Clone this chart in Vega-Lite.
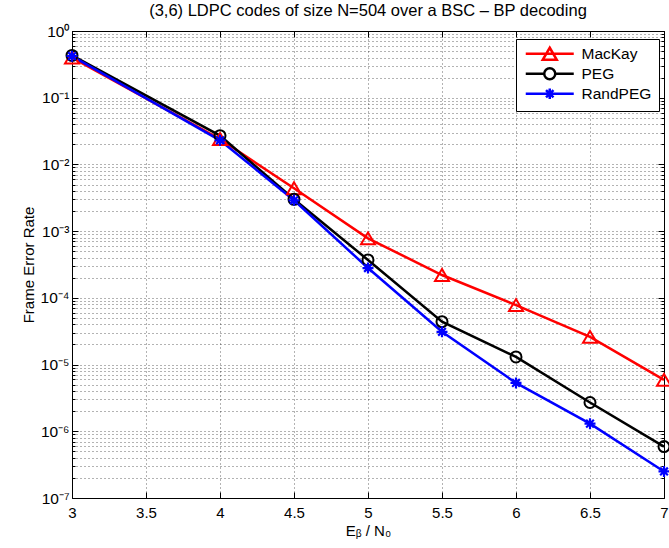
{
  "$schema": "https://vega.github.io/schema/vega-lite/v6.json",
  "width": 592,
  "height": 467,
  "autosize": "none",
  "padding": {"left": 72, "top": 31, "right": 5, "bottom": 50},
  "background": "white",
  "title": {
    "text": "(3,6) LDPC codes of size N=504 over a BSC – BP decoding",
    "font": "Liberation Sans",
    "fontSize": 16.5,
    "fontWeight": "normal",
    "color": "#000",
    "baseline": "bottom",
    "offset": 7,
    "dy": 18
  },
  "data": {
    "values": [
      {"ebn0": 3, "fer": 0.40, "series": "MacKay"},
      {"ebn0": 4, "fer": 0.024, "series": "MacKay"},
      {"ebn0": 4.5, "fer": 0.0044, "series": "MacKay"},
      {"ebn0": 5, "fer": 0.00078, "series": "MacKay"},
      {"ebn0": 5.5, "fer": 0.00022, "series": "MacKay"},
      {"ebn0": 6, "fer": 0.000078, "series": "MacKay"},
      {"ebn0": 6.5, "fer": 0.000026, "series": "MacKay"},
      {"ebn0": 7, "fer": 0.0000059, "series": "MacKay"},
      {"ebn0": 3, "fer": 0.43, "series": "PEG"},
      {"ebn0": 4, "fer": 0.027, "series": "PEG"},
      {"ebn0": 4.5, "fer": 0.0030, "series": "PEG"},
      {"ebn0": 5, "fer": 0.00037, "series": "PEG"},
      {"ebn0": 5.5, "fer": 0.000044, "series": "PEG"},
      {"ebn0": 6, "fer": 0.000013, "series": "PEG"},
      {"ebn0": 6.5, "fer": 0.0000027, "series": "PEG"},
      {"ebn0": 7, "fer": 0.00000059, "series": "PEG"},
      {"ebn0": 3, "fer": 0.42, "series": "RandPEG"},
      {"ebn0": 4, "fer": 0.023, "series": "RandPEG"},
      {"ebn0": 4.5, "fer": 0.0029, "series": "RandPEG"},
      {"ebn0": 5, "fer": 0.00028, "series": "RandPEG"},
      {"ebn0": 5.5, "fer": 0.000031, "series": "RandPEG"},
      {"ebn0": 6, "fer": 0.0000053, "series": "RandPEG"},
      {"ebn0": 6.5, "fer": 0.0000013, "series": "RandPEG"},
      {"ebn0": 7, "fer": 0.00000025, "series": "RandPEG"}
    ]
  },
  "layer": [
    {
      "mark": {"type": "line", "strokeWidth": 2.5},
      "encoding": {
        "x": {
          "field": "ebn0", "type": "quantitative",
          "scale": {"domain": [3, 7], "nice": false, "zero": false},
          "axis": {
            "orient": "bottom",
            "values": [3, 3.5, 4, 4.5, 5, 5.5, 6, 6.5, 7],
            "format": "~g",
            "title": "Eᵦ / N₀",
            "grid": true,
            "tickSize": -6,
            "labelPadding": 13,
            "titlePadding": 3
          }
        },
        "y": {
          "field": "fer", "type": "quantitative",
          "scale": {"type": "log", "domain": [1e-7, 1], "nice": false},
          "axis": {
            "orient": "left",
            "values": [1e-7, 2e-7, 3e-7, 4e-7, 5e-7, 6e-7, 7e-7, 8e-7, 9e-7,
                       1e-6, 2e-6, 3e-6, 4e-6, 5e-6, 6e-6, 7e-6, 8e-6, 9e-6,
                       1e-5, 2e-5, 3e-5, 4e-5, 5e-5, 6e-5, 7e-5, 8e-5, 9e-5,
                       1e-4, 2e-4, 3e-4, 4e-4, 5e-4, 6e-4, 7e-4, 8e-4, 9e-4,
                       1e-3, 2e-3, 3e-3, 4e-3, 5e-3, 6e-3, 7e-3, 8e-3, 9e-3,
                       1e-2, 2e-2, 3e-2, 4e-2, 5e-2, 6e-2, 7e-2, 8e-2, 9e-2,
                       1e-1, 2e-1, 3e-1, 4e-1, 5e-1, 6e-1, 7e-1, 8e-1, 9e-1, 1],
            "labelExpr": "abs(log(datum.value)/LN10 - round(log(datum.value)/LN10)) > 0.01 ? '' : (round(log(datum.value)/LN10) == 0 ? '10⁰' : '10⁻' + ['','¹','²','³','⁴','⁵','⁶','⁷'][-round(log(datum.value)/LN10)])",
            "labelFontSize": 15.5,
            "title": "Frame Error Rate",
            "grid": true,
            "tickSize": {"condition": {"test": "abs(log(datum.value)/LN10 - round(log(datum.value)/LN10)) < 0.01", "value": -6}, "value": -3},
            "labelPadding": 9,
            "titlePadding": 4
          }
        },
        "color": {
          "field": "series", "type": "nominal",
          "scale": {"domain": ["MacKay", "PEG", "RandPEG"], "range": ["#ff0000", "#000000", "#0000ff"]},
          "legend": {
            "title": null,
            "orient": "none",
            "legendX": 444,
            "legendY": 8,
            "strokeColor": "#000",
            "fillColor": "#fff",
            "padding": 7,
            "symbolSize": 144,
            "symbolStrokeWidth": 2.5,
            "symbolOffset": 19,
            "labelOffset": 24,
            "labelFont": "Liberation Sans",
            "labelFontSize": 15.5,
            "labelColor": "#000",
            "rowPadding": -2,
            "symbolType": {"expr": "datum.value == 'MacKay' ? 'M-4,0L4,0M0,-1L1.17,1L-1.17,1Z' : (datum.value == 'PEG' ? 'M-4,0L-0.92,0M0.92,0L4,0M-0.92,0A0.92,0.92 0 1,0 0.92,0A0.92,0.92 0 1,0 -0.92,0' : 'M-4,0L4,0M0,-0.87L0,0.87M-0.62,-0.62L0.62,0.62M-0.62,0.62L0.62,-0.62')"}
          }
        }
      }
    },
    {
      "transform": [{"filter": "datum.series == 'MacKay'"}],
      "mark": {"type": "point", "filled": false, "strokeWidth": 2, "size": 196, "color": "#ff0000", "opacity": 1, "shape": "M0,-0.85L1,0.85L-1,0.85Z"},
      "encoding": {
        "x": {
          "field": "ebn0", "type": "quantitative",
          "axis": {
            "orient": "top",
            "values": [3, 3.5, 4, 4.5, 5, 5.5, 6, 6.5, 7],
            "labels": false, "grid": false, "title": null, "tickSize": -6
          }
        },
        "y": {
          "field": "fer", "type": "quantitative",
          "axis": {
            "orient": "right",
            "values": [1e-7, 2e-7, 3e-7, 4e-7, 5e-7, 6e-7, 7e-7, 8e-7, 9e-7,
                       1e-6, 2e-6, 3e-6, 4e-6, 5e-6, 6e-6, 7e-6, 8e-6, 9e-6,
                       1e-5, 2e-5, 3e-5, 4e-5, 5e-5, 6e-5, 7e-5, 8e-5, 9e-5,
                       1e-4, 2e-4, 3e-4, 4e-4, 5e-4, 6e-4, 7e-4, 8e-4, 9e-4,
                       1e-3, 2e-3, 3e-3, 4e-3, 5e-3, 6e-3, 7e-3, 8e-3, 9e-3,
                       1e-2, 2e-2, 3e-2, 4e-2, 5e-2, 6e-2, 7e-2, 8e-2, 9e-2,
                       1e-1, 2e-1, 3e-1, 4e-1, 5e-1, 6e-1, 7e-1, 8e-1, 9e-1, 1],
            "labels": false, "grid": false, "title": null,
            "tickSize": {"condition": {"test": "abs(log(datum.value)/LN10 - round(log(datum.value)/LN10)) < 0.01", "value": -6}, "value": -3}
          }
        }
      }
    },
    {
      "transform": [{"filter": "datum.series == 'PEG'"}],
      "mark": {"type": "point", "filled": false, "strokeWidth": 2, "size": 121, "color": "#000000", "opacity": 1, "shape": "circle"},
      "encoding": {
        "x": {"field": "ebn0", "type": "quantitative", "axis": null},
        "y": {"field": "fer", "type": "quantitative", "axis": null}
      }
    },
    {
      "transform": [{"filter": "datum.series == 'RandPEG'"}],
      "mark": {"type": "point", "filled": false, "strokeWidth": 2.2, "size": 121, "color": "#0000ff", "opacity": 1, "shape": "M-1,0L1,0M0,-1L0,1M-0.7,-0.7L0.7,0.7M-0.7,0.7L0.7,-0.7"},
      "encoding": {
        "x": {"field": "ebn0", "type": "quantitative", "axis": null},
        "y": {"field": "fer", "type": "quantitative", "axis": null}
      }
    }
  ],
  "resolve": {"axis": {"x": "independent", "y": "independent"}},
  "config": {
    "view": {"stroke": "#000", "strokeWidth": 1},
    "font": "Liberation Sans",
    "axis": {
      "labelFont": "Liberation Sans",
      "labelFontSize": 15,
      "labelColor": "#000",
      "titleFont": "Liberation Sans",
      "titleFontSize": 15,
      "titleFontWeight": "normal",
      "titleColor": "#000",
      "tickColor": "#000",
      "tickWidth": 1,
      "gridColor": "#000",
      "gridOpacity": 0.6,
      "gridDash": [1, 3],
      "gridWidth": 1,
      "domain": false,
      "labelOverlap": false,
      "labelBound": false,
      "labelFlush": false
    }
  }
}
